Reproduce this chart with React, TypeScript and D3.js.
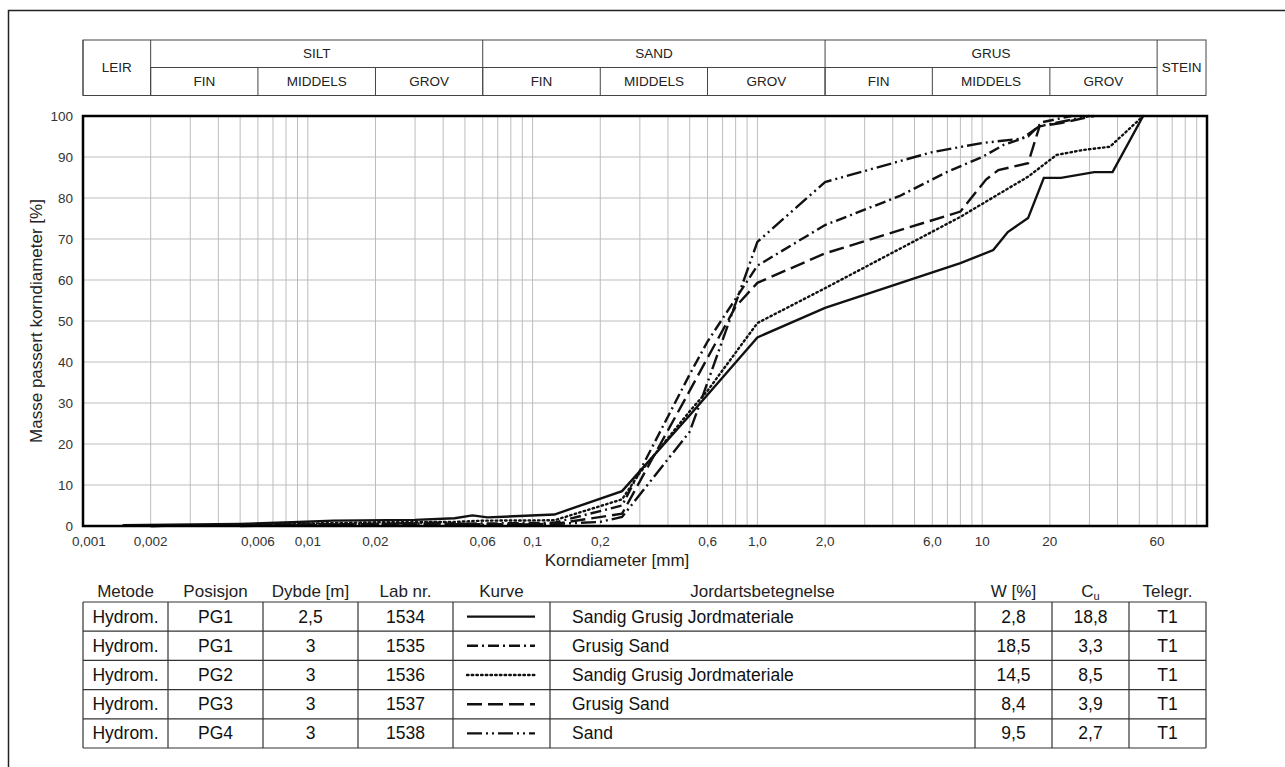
import React from 'react';
import * as d3 from 'd3';

// grain size distribution (korngradering)
const W = 1285;
const H = 767;

// curve data: [diameter mm, % passed]
const curve1534 = [[0.0015, 0.2], [0.005, 0.5], [0.0085, 0.9], [0.013, 1.3], [0.03, 1.5], [0.045, 1.9], [0.054, 2.6], [0.063, 2.1], [0.125, 2.8], [0.25, 8.5], [0.5, 27], [1, 46], [2, 53.2], [8, 64.1], [11.2, 67.3], [13, 71.7], [16, 75.1], [18.8, 84.9], [22.4, 84.9], [31.5, 86.3], [38, 86.3], [52, 100]];
const curve1535 = [[0.002, 0], [0.01, 0.3], [0.02, 0.5], [0.06, 0.6], [0.125, 0.8], [0.25, 5], [0.5, 37], [0.6, 45], [1, 63.5], [2, 73.4], [4.3, 80.5], [7, 86.4], [10, 90], [12.5, 93], [16, 95], [18.5, 98.5], [25, 100]];
const curve1536 = [[0.003, 0.1], [0.01, 0.6], [0.02, 0.9], [0.045, 1.0], [0.06, 1.3], [0.125, 1.4], [0.25, 6.5], [0.3, 13], [0.5, 28], [0.6, 33], [1, 49.5], [2, 58], [8, 75.4], [11.3, 80.3], [16, 85.2], [21.4, 90.5], [28, 91.7], [37, 92.5], [52, 100]];
const curve1537 = [[0.002, 0], [0.01, 0.4], [0.03, 0.5], [0.063, 0.4], [0.125, 0.5], [0.25, 3], [0.5, 33], [0.6, 41], [0.8, 53.5], [1, 59.3], [2, 66.5], [8, 76.7], [10.4, 84.5], [11.8, 86.8], [16, 88.5], [18, 97.5], [22.4, 98.3], [31.5, 100]];
const curve1538 = [[0.005, 0], [0.01, 0.2], [0.04, 0.8], [0.063, 0.2], [0.125, 0.5], [0.2, 1.0], [0.25, 2.2], [0.5, 23], [0.6, 35], [1, 69.3], [2, 83.9], [6, 91.2], [10, 93.4], [15, 94.5], [18, 97.5], [30, 100]];

const curves = [curve1534, curve1535, curve1536, curve1537, curve1538];
const dashes = ['none', '11 4 2 4', '1.5 3.2', '15 6', '15 4 2 4 2 4'];

// x ticks
const xTickVals = [0.001, 0.002, 0.006, 0.01, 0.02, 0.06, 0.1, 0.2, 0.6, 1, 2, 6, 10, 20, 60];
const xTickLabels = ['0,001', '0,002', '0,006', '0,01', '0,02', '0,06', '0,1', '0,2', '0,6', '1,0', '2,0', '6,0', '10', '20', '60'];
const yTickVals = [0, 10, 20, 30, 40, 50, 60, 70, 80, 90, 100];

// fraction header
const mainBands = [['LEIR', 0.001, 0.002], ['SILT', 0.002, 0.06], ['SAND', 0.06, 2], ['GRUS', 2, 60], ['STEIN', 60, 100]];
const subBands = [['FIN', 0.002, 0.006], ['MIDDELS', 0.006, 0.02], ['GROV', 0.02, 0.06], ['FIN', 0.06, 0.2], ['MIDDELS', 0.2, 0.6], ['GROV', 0.6, 2], ['FIN', 2, 6], ['MIDDELS', 6, 20], ['GROV', 20, 60]];

// table
const colHeads = ['Metode', 'Posisjon', 'Dybde [m]', 'Lab nr.', 'Kurve', 'Jordartsbetegnelse', 'W [%]', 'Cu', 'Telegr.'];
const metode = ['Hydrom.', 'Hydrom.', 'Hydrom.', 'Hydrom.', 'Hydrom.'];
const posisjon = ['PG1', 'PG1', 'PG2', 'PG3', 'PG4'];
const dybde = ['2,5', '3', '3', '3', '3'];
const labNr = ['1534', '1535', '1536', '1537', '1538'];
const jordart = ['Sandig Grusig Jordmateriale', 'Grusig Sand', 'Sandig Grusig Jordmateriale', 'Grusig Sand', 'Sand'];
const wPct = ['2,8', '18,5', '14,5', '8,4', '9,5'];
const cu = ['18,8', '3,3', '8,5', '3,9', '2,7'];
const telegr = ['T1', 'T1', 'T1', 'T1', 'T1'];

const font = '"Liberation Sans", Arial, sans-serif';

export default function App() {
  const x = d3.scaleLog().domain([0.001, 100]).range([83, 1207]);
  const y = d3.scaleLinear().domain([0, 100]).range([526, 116]);

  const line = d3.line<number[]>()
    .x(d => x(d[0]))
    .y(d => y(d[1]));

  // minor grid: 1..9 in each decade
  const grid: number[] = [];
  for (let e = -3; e < 2; e++) {
    for (let m = 1; m < 10; m++) {
      const v = m * Math.pow(10, e);
      if (v > 0.001 && v < 100) grid.push(v);
    }
  }

  const hTop = 40, hMid = 67.5, hBot = 95.5;
  const cols = [83, 168, 263, 358, 453, 550, 975, 1052, 1129, 1206];
  const rowY = d3.range(6).map(i => 602 + i * 29.2);
  const rows = labNr.map((_, i) => [metode[i], posisjon[i], dybde[i], labNr[i], '', jordart[i], wPct[i], cu[i], telegr[i]]);

  return (
    <svg width={W} height={H} style={{ position: 'absolute', left: 0, top: 0, fontFamily: font }}>
      <rect x={0} y={0} width={W} height={H} fill="#fff" />
      {/* page frame */}
      <path d={`M8.5,${H + 5}V10.5H${W + 5}`} fill="none" stroke="#222" strokeWidth={1.5} />

      {/* fraction header */}
      <g stroke="#444" strokeWidth={1} fill="none">
        <rect x={83} y={hTop} width={1206 - 83} height={hBot - hTop} />
        {mainBands.map((b, i) => (
          <line key={i} x1={x(b[1] as number)} x2={x(b[1] as number)} y1={hTop} y2={hBot} />
        ))}
        {['SILT', 'SAND', 'GRUS'].map(n => {
          const b = mainBands.find(m => m[0] === n)!;
          return <line key={n} x1={x(b[1] as number)} x2={x(b[2] as number)} y1={hMid} y2={hMid} />;
        })}
        {subBands.map((b, i) => (
          <line key={i} x1={x(b[1] as number)} x2={x(b[1] as number)} y1={hMid} y2={hBot} />
        ))}
      </g>
      <g fontSize={13.5} fill="#222" textAnchor="middle">
        {mainBands.map((b, i) => {
          const cx = (x(b[1] as number) + Math.min(x(b[2] as number), 1206)) / 2;
          const single = b[0] === 'LEIR' || b[0] === 'STEIN';
          return <text key={i} x={cx} y={single ? 72 : 58}>{b[0]}</text>;
        })}
        {subBands.map((b, i) => (
          <text key={i} x={(x(b[1] as number) + x(b[2] as number)) / 2} y={86}>{b[0]}</text>
        ))}
      </g>

      {/* grid */}
      <g stroke="#bdbdbd" strokeWidth={1}>
        {grid.map((v, i) => (
          <line key={i} x1={x(v)} x2={x(v)} y1={116} y2={526} />
        ))}
        {yTickVals.slice(1, -1).map(v => (
          <line key={v} x1={83} x2={1207} y1={y(v)} y2={y(v)} />
        ))}
      </g>

      {/* curves */}
      <g fill="none" stroke="#111" strokeWidth={2.4}>
        {curves.map((c, i) => (
          <path key={i} d={line(c as number[][])!} strokeDasharray={dashes[i]} strokeLinecap={i === 2 ? 'round' : 'butt'} />
        ))}
      </g>

      <rect x={83} y={116} width={1207 - 83} height={526 - 116} fill="none" stroke="#000" strokeWidth={2.5} />

      {/* axes labels */}
      <g fontSize={13.5} fill="#333">
        {yTickVals.map(v => (
          <text key={v} x={73} y={y(v) + 5} textAnchor="end">{v}</text>
        ))}
        {xTickVals.map((v, i) => (
          <text key={i} x={x(v) + (i === 0 ? 6 : 0)} y={546} textAnchor="middle">{xTickLabels[i]}</text>
        ))}
      </g>
      <text x={617} y={566} fontSize={17} textAnchor="middle" fill="#222">Korndiameter [mm]</text>
      <text transform="translate(42,321) rotate(-90)" fontSize={17} textAnchor="middle" fill="#222">Masse passert korndiameter [%]</text>

      {/* table */}
      <g fontSize={17} fill="#222" textAnchor="middle">
        {colHeads.map((h, i) => {
          const cx = (cols[i] + cols[i + 1]) / 2;
          if (h === 'Cu') {
            return (
              <text key={i} x={cx} y={597}>C<tspan fontSize={11} dy={3}>u</tspan></text>
            );
          }
          return <text key={i} x={cx} y={597}>{h}</text>;
        })}
      </g>
      <g stroke="#333" strokeWidth={1.2} fill="none">
        {rowY.map((ry, i) => (
          <line key={i} x1={83} x2={1206} y1={ry} y2={ry} />
        ))}
        {cols.map((cx, i) => (
          <line key={i} x1={cx} x2={cx} y1={rowY[0]} y2={rowY[5]} />
        ))}
      </g>
      <g fontSize={17.5} fill="#111">
        {rows.map((r, i) => {
          const cy = (rowY[i] + rowY[i + 1]) / 2 + 6;
          return (
            <g key={i}>
              {r.map((t, j) => {
                if (j === 4) return null;
                if (j === 5) return <text key={j} x={572} y={cy}>{t}</text>;
                return <text key={j} x={(cols[j] + cols[j + 1]) / 2} y={cy} textAnchor="middle">{t}</text>;
              })}
              <line x1={467} x2={535} y1={cy - 6} y2={cy - 6} stroke="#111" strokeWidth={2.4}
                strokeDasharray={dashes[i]} strokeLinecap={i === 2 ? 'round' : 'butt'} />
            </g>
          );
        })}
      </g>
    </svg>
  );
}
